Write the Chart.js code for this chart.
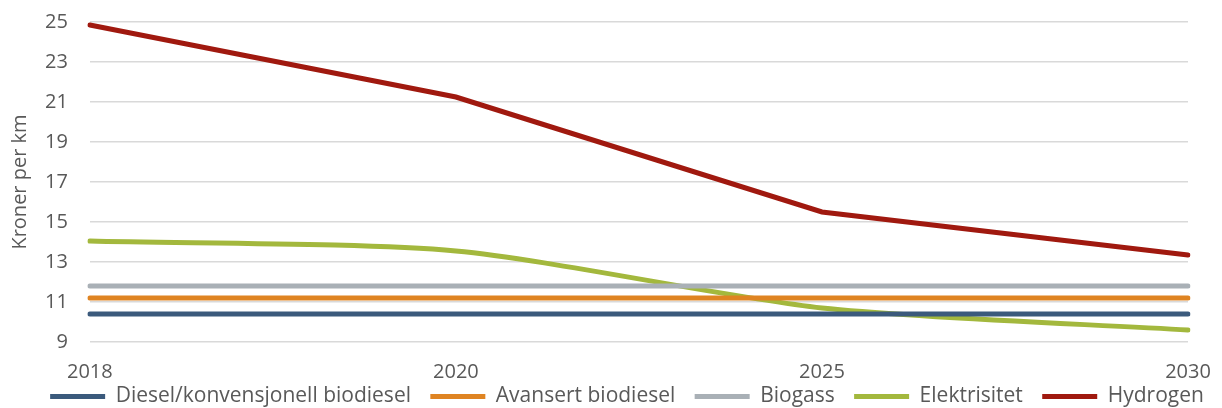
<!DOCTYPE html>
<html>
<head>
<meta charset="utf-8">
<script src="https://cdn.jsdelivr.net/npm/chart.js@4.4.0/dist/chart.umd.min.js"></script>
<style>
  html, body { margin: 0; padding: 0; background: #fff; }
  #wrap { width: 1222px; height: 408px; }
</style>
</head>
<body>
<div id="wrap"><canvas id="costChart" width="1222" height="408"></canvas></div>
<script>
const years = ["2018", "2020", "2025", "2030"];
const diesel = [10.4, 10.4, 10.4, 10.4];
const avansert = [11.2, 11.2, 11.2, 11.2];
const biogass = [11.8, 11.8, 11.8, 11.8];
const elektrisitet = [14.05, 13.55, 10.7, 9.6];
const hydrogen = [24.85, 21.25, 15.5, 13.35];

const FONT = 'Open Sans';
const GAP = '\u00A0\u00A0\u00A0';

function line(label, data, color, tension) {
    return {
        label: label,
        data: data,
        borderColor: color,
        backgroundColor: color,
        borderWidth: 5,
        borderCapStyle: 'round',
        pointRadius: 0,
        tension: tension || 0
    };
}

// nudge the legend (right of centre, lower) and let the x labels
// hang below the squeezed x axis box without being clipped
const layoutTweaks = {
    id: 'layoutTweaks',
    afterLayout(chart) {
        const lg = chart.legend;
        lg.left += 30;
        lg.right += 30;
        lg.top += 9;
        lg.bottom += 9;
        chart.scales.x.bottom += 14;
    }
};

const ctx = document.getElementById("costChart").getContext("2d");
new Chart(ctx, {
    type: 'line',
    data: {
        labels: years,
        datasets: [
            line("Diesel/konvensjonell biodiesel", diesel, "#3B5A7C"),
            line("Avansert biodiesel", avansert, "#DF8422"),
            line("Biogass", biogass, "#A9B0B6"),
            line("Elektrisitet", elektrisitet, "#A3B83D", 0.25),
            line("Hydrogen", hydrogen, "#A0190F")
        ]
    },
    options: {
        responsive: false,
        animation: false,
        layout: { padding: { left: 6, right: 34, top: 22, bottom: 0 } },
        scales: {
            x: {
                offset: false,
                grid: { display: false, drawTicks: false },
                border: { display: false },
                ticks: { color: '#595959', font: { family: FONT, size: 20, lineHeight: 1 }, padding: 20, maxRotation: 0 },
                afterFit: s => { s.height = 32; s.paddingRight = 0; }
            },
            y: {
                min: 9,
                max: 25,
                grid: { color: '#D9D9D9', lineWidth: 1.5, drawTicks: true, tickLength: 18, tickColor: 'rgba(0,0,0,0)' },
                border: { display: false },
                ticks: { stepSize: 2, color: '#595959', font: { family: FONT, size: 20, lineHeight: 1 }, padding: 4 },
                title: { display: true, text: 'Kroner per km', color: '#595959', font: { family: FONT, size: 20 }, padding: 2 },
                afterFit: s => { s.width += 7; }
            }
        },
        plugins: {
            legend: {
                position: 'bottom',
                labels: {
                    usePointStyle: true,
                    pointStyle: 'line',
                    pointStyleWidth: 55,
                    boxHeight: 5,
                    color: '#595959',
                    font: { family: FONT, size: 21, lineHeight: 1 },
                    padding: 3,
                    generateLabels(chart) {
                        const items = Chart.defaults.plugins.legend.labels.generateLabels(chart);
                        items.forEach((it, i) => {
                            if (i < items.length - 1) it.text = it.text + GAP;
                        });
                        return items;
                    }
                }
            },
            tooltip: { enabled: false }
        }
    },
    plugins: [layoutTweaks]
});
</script>
</body>
</html>
